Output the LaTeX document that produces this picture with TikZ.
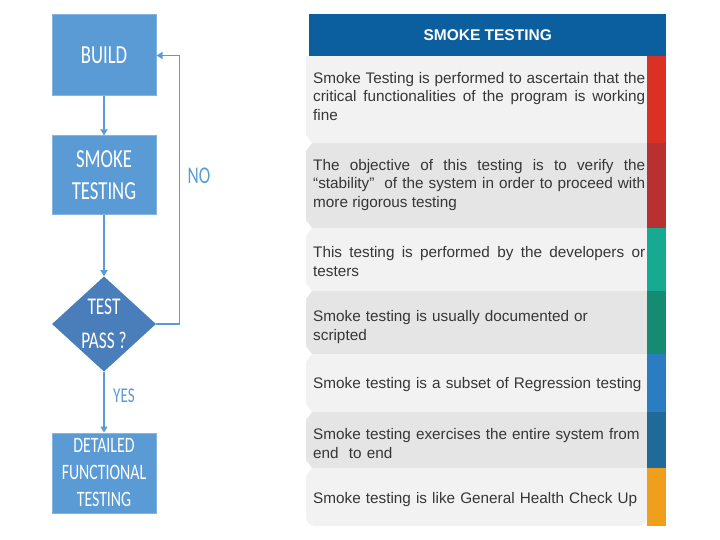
\documentclass[tikz,border=0pt]{standalone}
\usepackage{fontspec}
\setmainfont{Liberation Sans}
\newfontfamily\flowfont[FakeStretch=0.72]{Carlito}
\usetikzlibrary{shapes.geometric,arrows.meta}
\definecolor{boxblue}{HTML}{5B9BD5}
\definecolor{diablue}{HTML}{4A7EBB}
\definecolor{hdrblue}{HTML}{0B5F9F}
\definecolor{rowA}{HTML}{F2F2F2}
\definecolor{rowB}{HTML}{E5E5E5}
\definecolor{barA}{HTML}{DA3124}
\definecolor{barB}{HTML}{B83030}
\definecolor{barC}{HTML}{17AA93}
\definecolor{barD}{HTML}{168B74}
\definecolor{barE}{HTML}{2A7DC0}
\definecolor{barF}{HTML}{1E6A99}
\definecolor{barG}{HTML}{EF9F1B}
\definecolor{txt}{HTML}{363636}
\tikzset{
  fbox/.style={rectangle, fill=boxblue, draw=boxblue!75!white, line width=1pt,
    minimum width=104pt, text=white, align=center, inner sep=0pt,
    font=\flowfont\fontsize{26}{32}\selectfont},
  fdia/.style={diamond, fill=diablue, minimum width=104pt, minimum height=94pt,
    inner sep=0pt, text=white, align=center, font=\flowfont\fontsize{24}{34}\selectfont},
  arr/.style={draw=boxblue, line width=1.3pt, -{Triangle[width=7pt,length=6pt]}},
  flab/.style={text=boxblue, font=\flowfont\fontsize{24}{28}\selectfont, inner sep=0pt},
  rowtext/.style={anchor=west, text width=332pt, inner sep=0pt, text=txt,
    font=\fontsize{15.3}{18.5}\selectfont},
  notch/.style={fill=white}
}
\begin{document}
\hyphenpenalty=10000
\begin{tikzpicture}[x=1pt,y=-1pt]
\useasboundingbox (0,0) rectangle (720,540);
% flowchart
\node[fbox, minimum height=81pt] (build) at (104,55.5) {BUILD};
\node[fbox, minimum height=79pt] (smoke) at (104,175.5) {SMOKE\\TESTING};
\node[fdia] (dia) at (104,324) {TEST\\PASS ?};
\node[fbox, minimum height=80pt, font=\flowfont\fontsize{22}{27}\selectfont] (det) at (104,473) {DETAILED\\FUNCTIONAL\\TESTING};
\draw[arr] (build) -- (smoke);
\draw[arr] (smoke) -- (dia);
\draw[arr] (dia) -- (det);
\draw[arr] (dia.east) -- ++(23,0) |- (build.east);
\node[flab] (no) at (199,176) {NO};
\node[flab, font=\flowfont\fontsize{21}{25}\selectfont] (yes) at (124,396) {YES};
% table
\node[fill=hdrblue, minimum width=357pt, minimum height=42pt, anchor=north west,
  inner sep=0pt, text=white, font=\bfseries\fontsize{15.5}{18}\selectfont] (hdr) at (309,14) {SMOKE TESTING};
\fill[rowA] (306,56) rectangle (647,143);
\fill[rowB] (306,143) rectangle (647,228);
\fill[rowA] (306,228) rectangle (647,291);
\fill[rowB] (306,291) rectangle (647,354);
\fill[rowA] (306,354) rectangle (647,412);
\fill[rowB] (306,412) rectangle (647,468);
\fill[rowA] (647,468) -- (306,468) [rounded corners=9pt] -- (306,526) -- (647,526) [sharp corners] -- cycle;
\fill[barA] (647,56) rectangle (666,143);
\fill[barB] (647,143) rectangle (666,228);
\fill[barC] (647,228) rectangle (666,291);
\fill[barD] (647,291) rectangle (666,354);
\fill[barE] (647,354) rectangle (666,412);
\fill[barF] (647,412) rectangle (666,468);
\fill[barG] (647,468) rectangle (666,526);
\foreach \yy in {143,228,291,354,412,468}
  \fill[notch] (305,\yy-9) -- (312,\yy) -- (305,\yy+9) -- cycle;
\node[rowtext, align=justify] (t1) at (313,96.5) {Smoke Testing is performed to ascertain that the\linebreak critical functionalities of the program is working\linebreak fine};
\node[rowtext, align=justify] (t2) at (313,185) {The objective of this testing is to verify the\linebreak \textquotedblleft stability\textquotedblright\ \ of the system in order to proceed with\linebreak more rigorous testing};
\node[rowtext, align=justify] (t3) at (313,261.5) {This testing is performed by the developers or\linebreak testers};
\node[rowtext, align=left] (t4) at (313,327) {Smoke testing is usually documented or\\scripted};
\node[rowtext, align=left] (t5) at (313,385) {Smoke testing is a subset of Regression testing};
\node[rowtext, align=left] (t6) at (313,443.5) {Smoke testing exercises the entire system from\\end\ \ to end};
\node[rowtext, align=left] (t7) at (313,500) {Smoke testing is like General Health Check Up};
\end{tikzpicture}
\end{document}
